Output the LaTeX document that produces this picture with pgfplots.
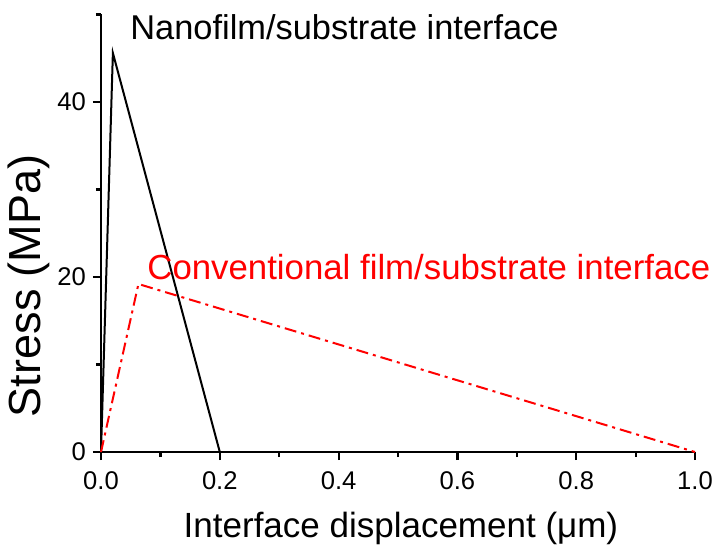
\documentclass[border=0pt]{standalone}
\usepackage{fontspec}
\setmainfont{Liberation Sans}
\usepackage{pgfplots}
\pgfplotsset{compat=1.18}

\begin{document}
\begin{tikzpicture}
\begin{axis}[
    scale only axis,
    width=297pt, height=218.75pt,
    xmin=0, xmax=1.0,
    ymin=0, ymax=50,
    axis x line=bottom,
    axis y line=left,
    axis line style={line width=1.2pt, -},
    xtick={0,0.2,...,1.0},
    minor xtick={0.1,0.3,0.5,0.7,0.9},
    ytick={0,20,40},
    minor ytick={10,30,50},
    tick align=outside,
    major tick length=4pt,
    minor tick length=2.5pt,
    tick style={line width=1.1pt, black},
    xticklabel style={/pgf/number format/fixed, /pgf/number format/fixed zerofill, /pgf/number format/precision=1, yshift=-2.5pt},
    /pgf/number format/assume math mode=true,
    tick label style={font=\fontsize{12.8}{15}\selectfont},
    xlabel={Interface displacement (μm)},
    ylabel={Stress (MPa)},
    xlabel style={at={(axis description cs:0.505,0)}, anchor=base, yshift=-42.5pt, font=\fontsize{17.5}{20}\selectfont},
    ylabel style={at={(axis description cs:-0.1212,0.38)}, anchor=center, font=\fontsize{22.5}{26}\selectfont},
    clip=false,
]
\addplot[black, line width=1pt] coordinates {(0,0) (0.02,45.6) (0.2,0)};
\addplot[red, line width=1pt, dash pattern=on 6pt off 2.5pt on 1.5pt off 2.5pt] coordinates {(0,0) (0.063,19.2) (1.0,0)};
\node[anchor=base west, inner sep=0pt, font=\fontsize{17.2}{20}\selectfont] at (axis cs:0.0488,47.1) {Nanofilm/substrate interface};
\node[anchor=base west, inner sep=0pt, text=red, font=\fontsize{17.4}{20}\selectfont] at (axis cs:0.0774,19.66) {Conventional film/substrate interface};
\end{axis}
\pgfresetboundingbox
\path[use as bounding box] (-50.5pt,-47.5pt) rectangle (307.5pt,226pt);
\end{tikzpicture}
\end{document}
